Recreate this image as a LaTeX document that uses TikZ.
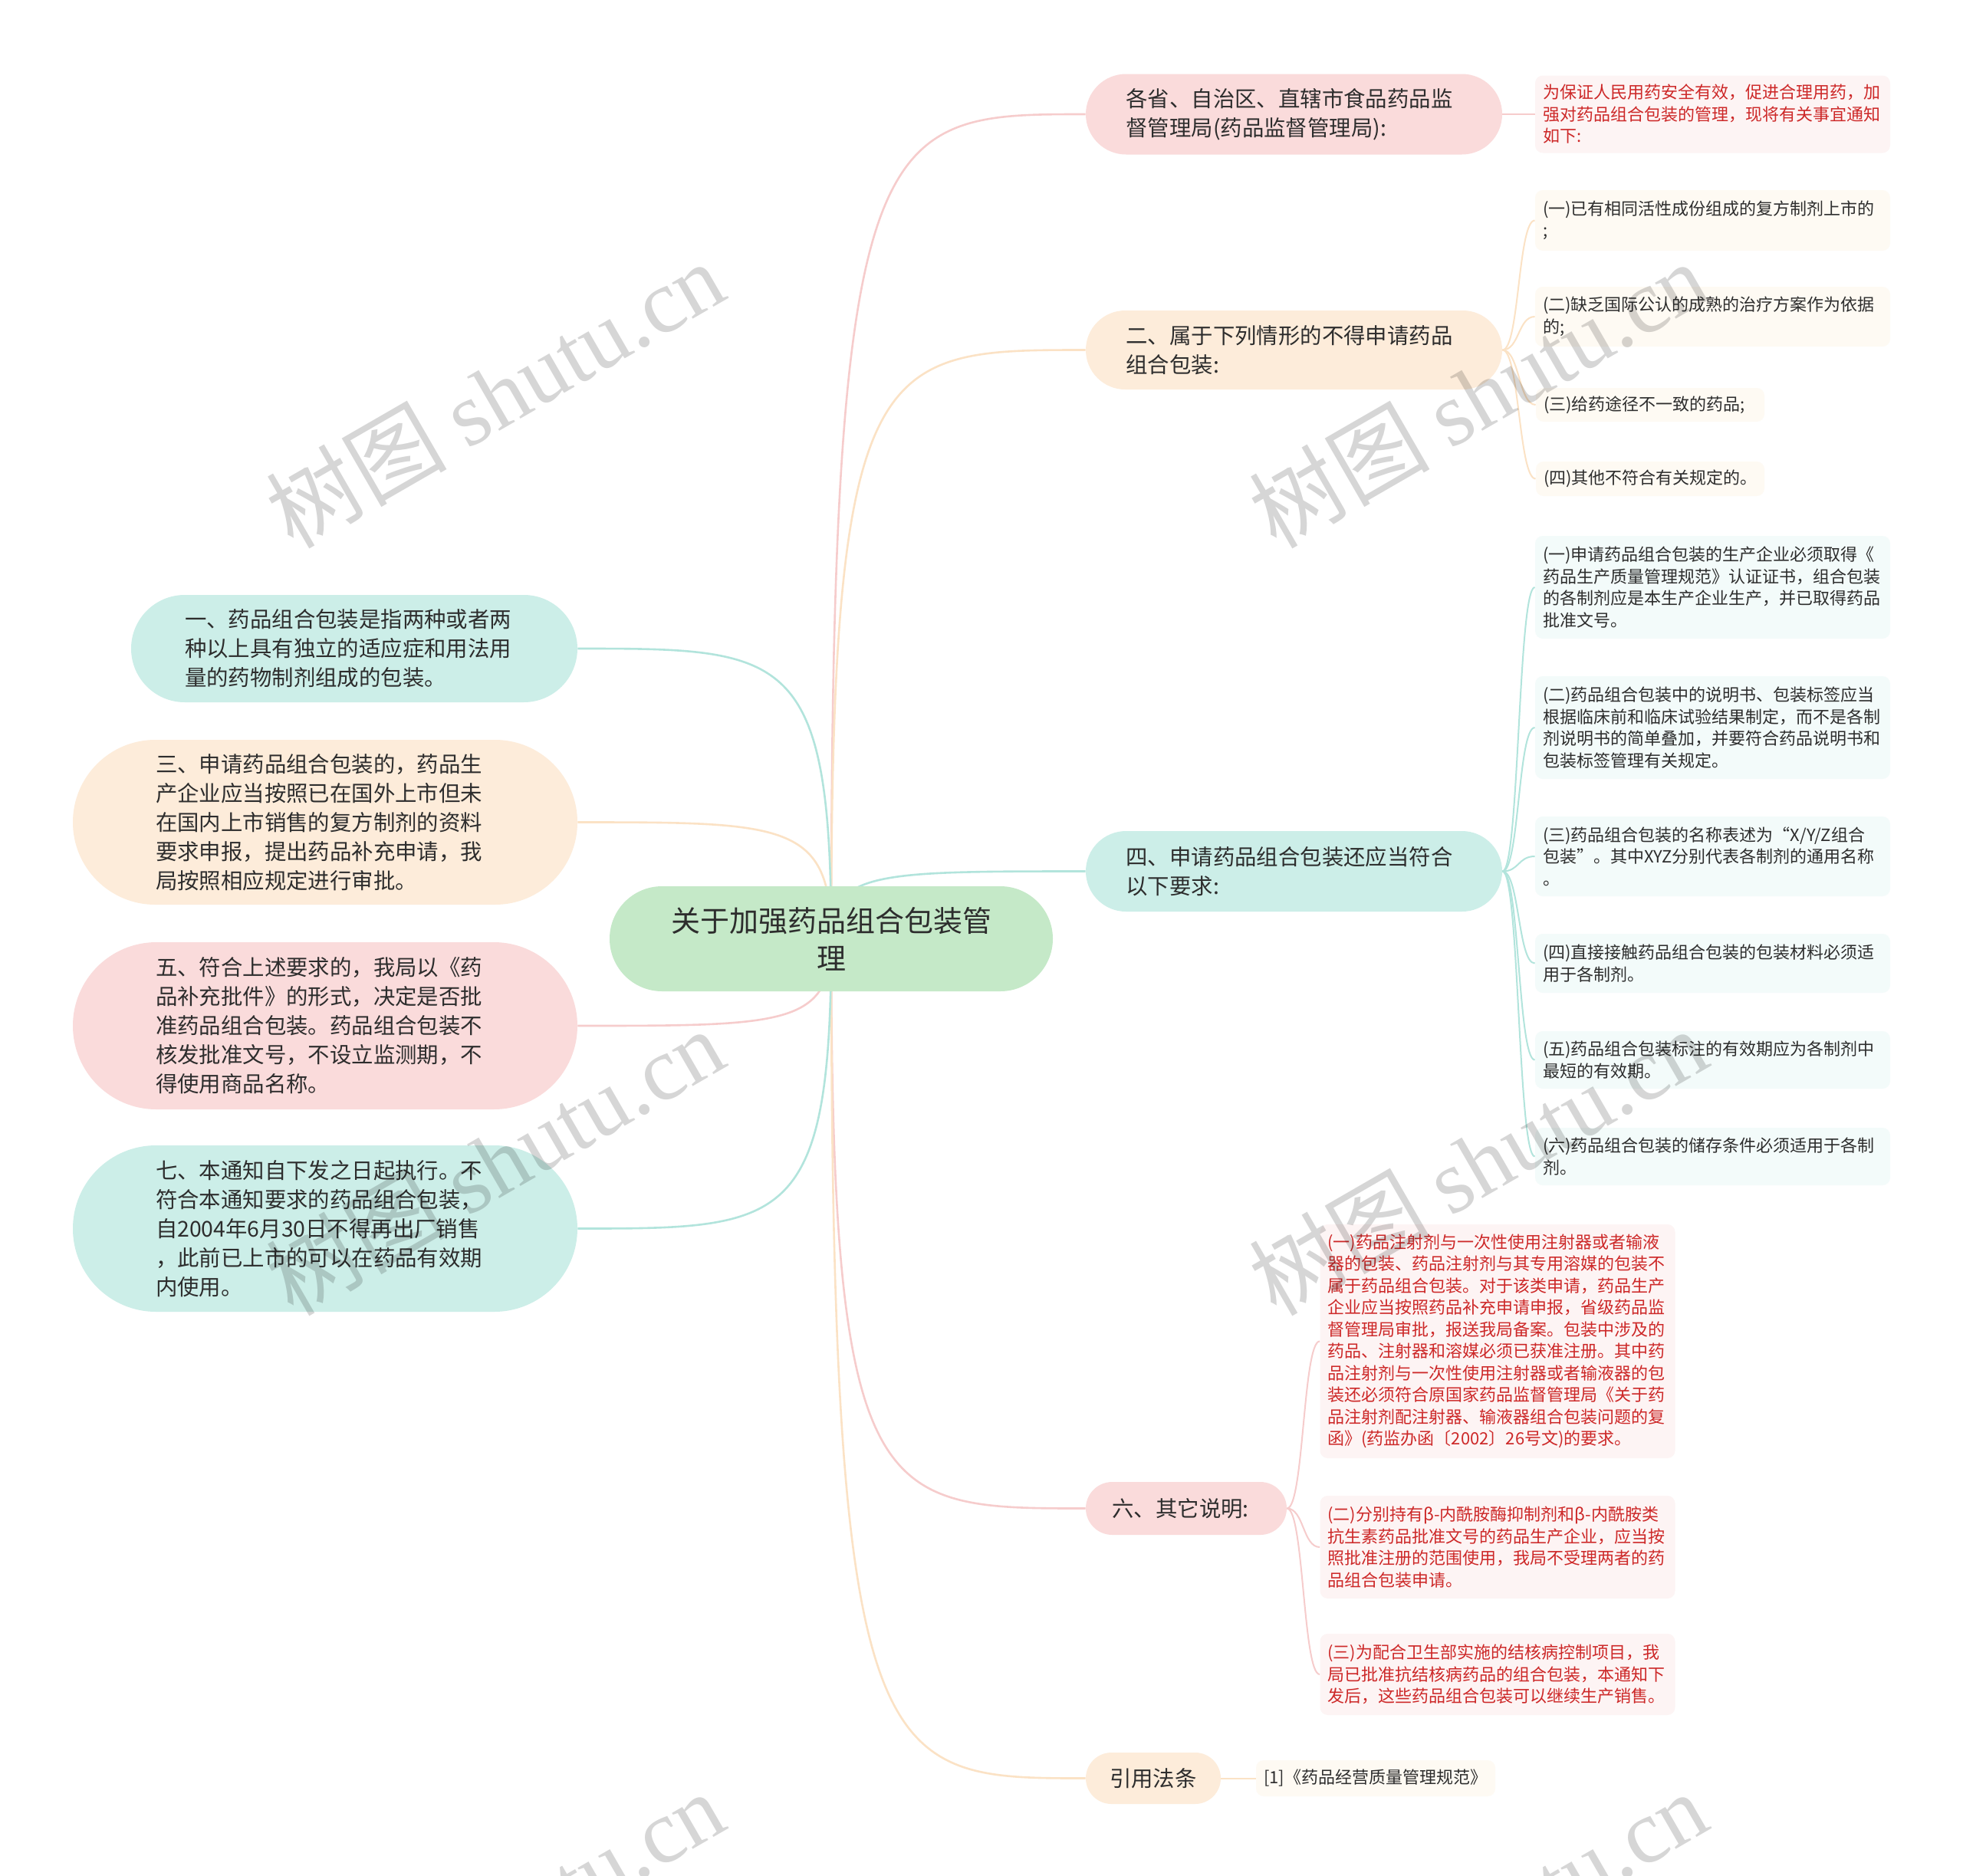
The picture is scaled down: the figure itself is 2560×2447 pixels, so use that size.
\documentclass[tikz,border=0pt]{standalone}
\usepackage{fontspec}
\setmainfont{Noto Sans CJK SC}
\newfontfamily\wmlatin{Liberation Serif}
\usetikzlibrary{shapes.misc,calc,backgrounds}
\definecolor{txt}{RGB}{45,45,45}
\definecolor{redtxt}{RGB}{205,40,40}
\definecolor{greenfill}{RGB}{197,233,200}
\definecolor{pinkfill}{RGB}{250,219,219}
\definecolor{peachfill}{RGB}{253,236,218}
\definecolor{tealfill}{RGB}{204,238,232}
\definecolor{pinkleaf}{RGB}{253,244,244}
\definecolor{peachleaf}{RGB}{254,250,243}
\definecolor{tealleaf}{RGB}{243,251,250}
\definecolor{pinkline}{RGB}{246,204,204}
\definecolor{peachline}{RGB}{251,226,197}
\definecolor{tealline}{RGB}{178,228,220}
\tikzset{
  mainnode/.style={rounded rectangle, inner xsep=0pt, inner ysep=0pt, align=left,
    text=txt, font=\fontsize{14.2pt}{19pt}\selectfont},
  centernode/.style={rounded rectangle, inner xsep=0pt, inner ysep=0pt, align=center,
    text=txt, fill=greenfill, font=\fontsize{19pt}{24.5pt}\selectfont,
    text width=220.5pt, minimum height=68.5pt, minimum width=289pt},
  leafnode/.style={rectangle, rounded corners=5pt, inner xsep=5pt, inner ysep=0pt,
    align=left, text width=221.5pt, text=txt, font=\fontsize{11pt}{14.25pt}\selectfont},
  mainline/.style={line width=1.3pt},
  leafline/.style={line width=1pt},
  wm/.style={rotate=30, text=black, text opacity=0.16, inner sep=0pt,
    font=\fontsize{59pt}{59pt}\selectfont}
}
\begin{document}
\begin{tikzpicture}[x=0.5pt,y=-0.5pt]
\useasboundingbox (0,0) rectangle (2560,2447);

% centre
\node[centernode] (c) at (1084,1224.5) {关于加强药品组合包装管\\理};

% right main branches
\node[mainnode, fill=pinkfill, text width=219pt, minimum width=271.5pt, minimum height=52.5pt] (r1) at (1687.5,149)
  {各省、自治区、直辖市食品药品监\\督管理局(药品监督管理局):};
\node[mainnode, fill=peachfill, text width=219pt, minimum width=271.5pt, minimum height=51.5pt] (r2) at (1687.5,456.5)
  {二、属于下列情形的不得申请药品\\组合包装:};
\node[mainnode, fill=tealfill, text width=219pt, minimum width=271.5pt, minimum height=52.5pt] (r3) at (1687.5,1136.5)
  {四、申请药品组合包装还应当符合\\以下要求:};
\node[mainnode, fill=pinkfill, text width=96.5pt, minimum width=131pt, minimum height=34.5pt] (r4) at (1547,1967.5)
  {六、其它说明:};
\node[mainnode, fill=peachfill, text width=57pt, minimum width=88pt, minimum height=33.5pt] (r5) at (1504,2319.5)
  {引用法条};

% left main branches
\node[mainnode, fill=tealfill, text width=221pt, minimum width=291pt, minimum height=70pt] (l1) at (462,846)
  {一、药品组合包装是指两种或者两\\种以上具有独立的适应症和用法用\\量的药物制剂组成的包装。};
\node[mainnode, fill=peachfill, text width=221pt, minimum width=329pt, minimum height=107.5pt] (l2) at (424,1072.5)
  {三、申请药品组合包装的，药品生\\产企业应当按照已在国外上市但未\\在国内上市销售的复方制剂的资料\\要求申报，提出药品补充申请，我\\局按照相应规定进行审批。};
\node[mainnode, fill=pinkfill, text width=221pt, minimum width=329pt, minimum height=109pt] (l3) at (424,1338)
  {五、符合上述要求的，我局以《药\\品补充批件》的形式，决定是否批\\准药品组合包装。药品组合包装不\\核发批准文号，不设立监测期，不\\得使用商品名称。};
\node[mainnode, fill=tealfill, text width=221pt, minimum width=329pt, minimum height=108.5pt] (l4) at (424,1602.5)
  {七、本通知自下发之日起执行。不\\符合本通知要求的药品组合包装，\\自2004年6月30日不得再出厂销售\\，此前已上市的可以在药品有效期\\内使用。};

% leaves of r1
\node[leafnode, fill=pinkleaf, text=redtxt, minimum height=50.5pt] (a1) at (2233.5,149)
  {为保证人民用药安全有效，促进合理用药，加\\强对药品组合包装的管理，现将有关事宜通知\\如下:};

% leaves of r2
\node[leafnode, fill=peachleaf, minimum height=39.5pt] (b1) at (2233.5,287.5)
  {(一)已有相同活性成份组成的复方制剂上市的\\;};
\node[leafnode, fill=peachleaf, minimum height=39pt] (b2) at (2233.5,413)
  {(二)缺乏国际公认的成熟的治疗方案作为依据\\的;};
\node[leafnode, fill=peachleaf, text width=139pt, minimum height=22pt] (b3) at (2152,528)
  {(三)给药途径不一致的药品;};
\node[leafnode, fill=peachleaf, text width=139pt, minimum height=22.5pt] (b4) at (2152,624.5)
  {(四)其他不符合有关规定的。};

% leaves of r3
\node[leafnode, fill=tealleaf, minimum height=67pt] (d1) at (2233.5,766)
  {(一)申请药品组合包装的生产企业必须取得《\\药品生产质量管理规范》认证证书，组合包装\\的各制剂应是本生产企业生产，并已取得药品\\批准文号。};
\node[leafnode, fill=tealleaf, minimum height=67pt] (d2) at (2233.5,949)
  {(二)药品组合包装中的说明书、包装标签应当\\根据临床前和临床试验结果制定，而不是各制\\剂说明书的简单叠加，并要符合药品说明书和\\包装标签管理有关规定。};
\node[leafnode, fill=tealleaf, minimum height=52pt] (d3) at (2233.5,1117)
  {(三)药品组合包装的名称表述为“X/Y/Z组合\\包装”。其中XYZ分别代表各制剂的通用名称\\。};
\node[leafnode, fill=tealleaf, minimum height=38.5pt] (d4) at (2233.5,1256.5)
  {(四)直接接触药品组合包装的包装材料必须适\\用于各制剂。};
\node[leafnode, fill=tealleaf, minimum height=37.5pt] (d5) at (2233.5,1382.5)
  {(五)药品组合包装标注的有效期应为各制剂中\\最短的有效期。};
\node[leafnode, fill=tealleaf, minimum height=37.5pt] (d6) at (2233.5,1508.5)
  {(六)药品组合包装的储存条件必须适用于各制\\剂。};

% leaves of r4
\node[leafnode, fill=pinkleaf, text=redtxt, minimum height=152.5pt] (f1) at (1953,1749.5)
  {(一)药品注射剂与一次性使用注射器或者输液\\器的包装、药品注射剂与其专用溶媒的包装不\\属于药品组合包装。对于该类申请，药品生产\\企业应当按照药品补充申请申报，省级药品监\\督管理局审批，报送我局备案。包装中涉及的\\药品、注射器和溶媒必须已获准注册。其中药\\品注射剂与一次性使用注射器或者输液器的包\\装还必须符合原国家药品监督管理局《关于药\\品注射剂配注射器、输液器组合包装问题的复\\函》(药监办函〔2002〕26号文)的要求。};
\node[leafnode, fill=pinkleaf, text=redtxt, minimum height=67pt] (f2) at (1953,2018)
  {(二)分别持有β-内酰胺酶抑制剂和β-内酰胺类\\抗生素药品批准文号的药品生产企业，应当按\\照批准注册的范围使用，我局不受理两者的药\\品组合包装申请。};
\node[leafnode, fill=pinkleaf, text=redtxt, minimum height=53pt] (f3) at (1953,2184)
  {(三)为配合卫生部实施的结核病控制项目，我\\局已批准抗结核病药品的组合包装，本通知下\\发后，这些药品组合包装可以继续生产销售。};

% leaf of r5
\node[leafnode, fill=peachleaf, text width=146pt, minimum height=23.5pt] (g1) at (1794,2319.5)
  {[1]《药品经营质量管理规范》};

\begin{pgfonlayer}{background}
\fill[white] (0,0) rectangle (2560,2447);
% centre to right branches
\draw[mainline, pinkline] (c.center) .. controls (c.center |- r1.west) and ($(c.center |- r1.west)+(60,0)$) .. (r1.west);
\draw[mainline, peachline] (c.center) .. controls (c.center |- r2.west) and ($(c.center |- r2.west)+(60,0)$) .. (r2.west);
\draw[mainline, tealline] (c.center) .. controls (c.center |- r3.west) and ($(c.center |- r3.west)+(60,0)$) .. (r3.west);
\draw[mainline, pinkline] (c.center) .. controls (c.center |- r4.west) and ($(c.center |- r4.west)+(60,0)$) .. (r4.west);
\draw[mainline, peachline] (c.center) .. controls (c.center |- r5.west) and ($(c.center |- r5.west)+(60,0)$) .. (r5.west);
% centre to left branches
\draw[mainline, tealline] (c.center) .. controls (c.center |- l1.east) and ($(c.center |- l1.east)+(-60,0)$) .. (l1.east);
\draw[mainline, peachline] (c.center) .. controls (c.center |- l2.east) and ($(c.center |- l2.east)+(-60,0)$) .. (l2.east);
\draw[mainline, pinkline] (c.center) .. controls (c.center |- l3.east) and ($(c.center |- l3.east)+(-60,0)$) .. (l3.east);
\draw[mainline, tealline] (c.center) .. controls (c.center |- l4.east) and ($(c.center |- l4.east)+(-60,0)$) .. (l4.east);
% leaves
\draw[leafline, pinkline] (r1.east) -- (a1.west);
\foreach \lf in {b1,b2,b3,b4}{
  \draw[leafline, peachline] (r2.east) .. controls ($(r2.east)+(22,0)$) and ($(\lf.west)+(-22,0)$) .. (\lf.west);
}
\foreach \lf in {d1,d2,d3,d4,d5,d6}{
  \draw[leafline, tealline] (r3.east) .. controls ($(r3.east)+(22,0)$) and ($(\lf.west)+(-22,0)$) .. (\lf.west);
}
\foreach \lf in {f1,f2,f3}{
  \draw[leafline, pinkline] (r4.east) .. controls ($(r4.east)+(22,0)$) and ($(\lf.west)+(-22,0)$) .. (\lf.west);
}
\draw[leafline, peachline] (r5.east) -- (g1.west);
\end{pgfonlayer}

% watermarks
\begin{scope}
\clip (0,0) rectangle (2560,2447);
\node[wm] (wm1) at (645,514) {树图 {\wmlatin shutu.cn}};
\node[wm] (wm2) at (1927,514) {树图 {\wmlatin shutu.cn}};
\node[wm] (wm3) at (645,1515) {树图 {\wmlatin shutu.cn}};
\node[wm] (wm4) at (1927,1515) {树图 {\wmlatin shutu.cn}};
\node[wm] (wm5) at (645,2510) {树图 {\wmlatin shutu.cn}};
\node[wm] (wm6) at (1927,2510) {树图 {\wmlatin shutu.cn}};
\end{scope}
\end{tikzpicture}
\end{document}
